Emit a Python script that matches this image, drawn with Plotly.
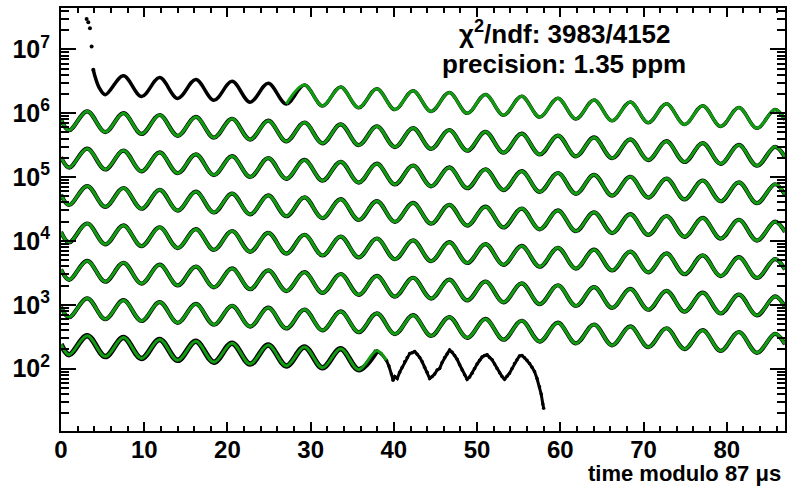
import plotly.graph_objects as go

# ---- data ----
# extremum times (trough / peak alternating) within one 87 us window
EXT_T = [0.0, 0.975, 3.15, 5.325, 7.5, 9.675, 11.85, 14.025, 16.2, 18.375, 20.55,
         22.725, 24.9, 27.075, 29.25, 31.425, 33.6, 35.775, 37.95, 40.125, 42.3,
         44.475, 46.65, 48.825, 51.0, 53.175, 55.35, 57.525, 59.7, 61.875, 64.05,
         66.225, 68.4, 70.575, 72.75, 74.925, 77.1, 79.275, 81.45, 83.625, 85.8, 87.0]

ROW0 = [3.045e6, 2.089e6, 4.133e6, 1.953e6, 3.864e6, 1.825e6, 3.611e6, 1.707e6, 3.376e6, 1.595e6,
        3.156e6, 1.491e6, 2.950e6, 1.394e6, 2.758e6, 1.303e6, 2.578e6, 1.218e6, 2.410e6, 1.139e6,
        2.253e6, 1.064e6, 2.106e6, 9.950e5, 1.969e6, 9.302e5, 1.840e6, 8.694e5, 1.720e6, 8.128e5,
        1.608e6, 7.598e5, 1.503e6, 7.103e5, 1.405e6, 6.639e5, 1.314e6, 6.206e5, 1.228e6, 5.801e5,
        1.148e6, 7.900e5]
ROW1 = [7.900e5, 5.421e5, 1.072e6, 5.068e5, 1.002e6, 4.737e5, 9.371e5, 4.428e5, 8.760e5, 4.139e5,
        8.189e5, 3.870e5, 7.655e5, 3.617e5, 7.156e5, 3.382e5, 6.690e5, 3.161e5, 6.253e5, 2.955e5,
        5.846e5, 2.762e5, 5.464e5, 2.582e5, 5.108e5, 2.414e5, 4.775e5, 2.256e5, 4.463e5, 2.109e5,
        4.173e5, 1.972e5, 3.900e5, 1.843e5, 3.646e5, 1.723e5, 3.408e5, 1.611e5, 3.186e5, 1.505e5,
        2.978e5, 2.050e5]
ROW2 = [2.050e5, 1.406e5, 2.782e5, 1.315e5, 2.601e5, 1.229e5, 2.431e5, 1.149e5, 2.273e5, 1.074e5,
        2.124e5, 1.004e5, 1.986e5, 9.384e4, 1.856e5, 8.773e4, 1.735e5, 8.200e4, 1.622e5, 7.666e4,
        1.517e5, 7.165e4, 1.417e5, 6.698e4, 1.325e5, 6.262e4, 1.239e5, 5.853e4, 1.158e5, 5.472e4,
        1.083e5, 5.115e4, 1.012e5, 4.781e4, 9.459e4, 4.469e4, 8.841e4, 4.178e4, 8.265e4, 3.905e4,
        7.726e4, 5.319e4]
ROW3 = [5.319e4, 3.650e4, 7.220e4, 3.412e4, 6.749e4, 3.189e4, 6.309e4, 2.982e4, 5.898e4, 2.787e4,
        5.513e4, 2.605e4, 5.154e4, 2.436e4, 4.818e4, 2.277e4, 4.504e4, 2.128e4, 4.210e4, 1.990e4,
        3.936e4, 1.860e4, 3.679e4, 1.738e4, 3.439e4, 1.625e4, 3.215e4, 1.519e4, 3.005e4, 1.420e4,
        2.809e4, 1.328e4, 2.626e4, 1.241e4, 2.455e4, 1.160e4, 2.295e4, 1.084e4, 2.145e4, 1.014e4,
        2.005e4, 1.380e4]
ROW4 = [1.380e4, 9.468e3, 1.873e4, 8.851e3, 1.751e4, 8.273e3, 1.637e4, 7.734e3, 1.530e4, 7.230e3,
        1.430e4, 6.758e3, 1.337e4, 6.318e3, 1.250e4, 5.906e3, 1.168e4, 5.521e3, 1.092e4, 5.161e3,
        1.021e4, 4.824e3, 9.543e3, 4.510e3, 8.921e3, 4.216e3, 8.340e3, 3.941e3, 7.795e3, 3.684e3,
        7.288e3, 3.444e3, 6.812e3, 3.219e3, 6.368e3, 3.009e3, 5.952e3, 2.813e3, 5.565e3, 2.629e3,
        5.201e3, 3.580e3]
ROW5 = [3580, 2457, 4860, 2297, 4543, 2147, 4247, 2007, 3970, 1876,
        3711, 1754, 3469, 1640, 3243, 1533, 3032, 1433, 2834, 1339,
        2649, 1252, 2476, 1170, 2315, 1094, 2164, 1023, 2023, 956.0,
        1891, 893.6, 1768, 835.4, 1652, 780.8, 1545, 730.0, 1444, 682.3,
        1350, 929.0]
ROW6 = [929.0, 637.5, 1261, 595.9, 1179, 557.0, 1102, 520.8, 1030, 486.8,
        962.9, 455.0, 900.1, 425.4, 841.5, 397.7, 786.6, 371.7, 735.3, 347.5,
        687.4, 324.8, 642.5, 303.6, 600.6, 283.9, 561.5, 265.3, 524.8, 248.1,
        490.7, 231.9, 458.6, 216.8, 428.7, 202.6, 400.7, 189.4, 374.6, 177.0,
        350.2, 241.0]
ROW7 = [241.0, 165.4, 327.1, 154.6, 305.8, 144.5, 285.8, 135.1, 267.2, 126.3,
        249.8, 118.1, 233.5, 110.4, 218.3, 103.2, 204.0, 96.4, 190.7]
ROW7_FIT_END_T = [39.1]
ROW7_FIT_END_V = [135.0]

# early (flash) data points of the first window
EARLY_T = [3.08, 3.28, 3.48, 3.68, 3.88]
EARLY_V = [3.0e7, 2.67e7, 2.15e7, 1.11e7, 4.8e6]
LEAD_T = [3.88, 4.08, 4.6]
LEAD_V = [4.8e6, 3.79e6, 2.5e6]

# last window: data beyond the fit range (noisy)
TAIL_T = [37.95, 38.5, 39.1, 39.4, 39.7, 39.9, 40.1, 40.4, 40.7, 41.0, 41.3, 41.6, 41.9, 42.2,
          42.5, 42.8, 43.1, 43.4, 43.7, 44.0, 44.3, 44.6, 44.9, 45.2, 45.5, 45.8, 46.1, 46.4,
          46.7, 47.0, 47.3, 47.6, 47.9, 48.2, 48.5, 48.8, 49.1, 49.4, 49.7, 50.0, 50.3, 50.6,
          50.9, 51.2, 51.5, 51.8, 52.1, 52.4, 52.7, 53.0, 53.3, 53.6, 53.9, 54.2, 54.5, 54.8,
          55.1, 55.4, 55.7, 56.0, 56.3, 56.6, 56.9, 57.2, 57.5, 57.7, 57.9, 58.0]
TAIL_V = [190.7, 170, 135, 110, 82, 66, 75, 70, 88, 105, 128, 150, 172, 178,
          185, 168, 150, 128, 105, 88, 70, 75, 82, 95, 100, 125, 150, 170,
          195, 180, 160, 140, 115, 95, 80, 68, 74, 85, 100, 118, 135, 152,
          160, 165, 150, 138, 118, 100, 86, 75, 68, 76, 85, 100, 120, 138,
          158, 160, 148, 135, 120, 105, 90, 70, 52, 40, 28, 24]

Y_TICKS = [1e2, 1e3, 1e4, 1e5, 1e6, 1e7]
Y_TICKTEXT = ["10<sup>2</sup>", "10<sup>3</sup>", "10<sup>4</sup>", "10<sup>5</sup>",
              "10<sup>6</sup>", "10<sup>7</sup>"]

TEXT1 = "χ<sup>2</sup>/ndf: 3983/4152"
TEXT2 = "precision: 1.35 ppm"
XTITLE = "time modulo 87 μs"

GREEN = "#129c12"
BLACK = "#000000"
FONT = "Liberation Sans"

fig = go.Figure()

full_rows = [ROW1, ROW2, ROW3, ROW4, ROW5, ROW6]

# black data (underneath)
fig.add_trace(go.Scatter(x=LEAD_T + EXT_T[3:], y=LEAD_V + ROW0[3:], mode="lines",
                         line=dict(color=BLACK, width=3.5, shape="spline"), hoverinfo="skip"))
for r in full_rows:
    fig.add_trace(go.Scatter(x=EXT_T, y=r, mode="lines",
                             line=dict(color=BLACK, width=4.2, shape="spline"), hoverinfo="skip"))
fig.add_trace(go.Scatter(x=EXT_T[:19], y=ROW7, mode="lines",
                         line=dict(color=BLACK, width=5.5, shape="spline"), hoverinfo="skip"))
fig.add_trace(go.Scatter(x=TAIL_T, y=TAIL_V, mode="lines+markers",
                         line=dict(color=BLACK, width=3), marker=dict(color=BLACK, size=3.5),
                         hoverinfo="skip"))
fig.add_trace(go.Scatter(x=EARLY_T, y=EARLY_V, mode="markers",
                         marker=dict(color=BLACK, size=4), hoverinfo="skip"))

# green fit
fig.add_trace(go.Scatter(x=EXT_T[13:], y=ROW0[13:], mode="lines",
                         line=dict(color=GREEN, width=3, shape="spline"), hoverinfo="skip"))
for r in full_rows:
    fig.add_trace(go.Scatter(x=EXT_T, y=r, mode="lines",
                             line=dict(color=GREEN, width=3, shape="spline"), hoverinfo="skip"))
fig.add_trace(go.Scatter(x=EXT_T[:19] + ROW7_FIT_END_T, y=ROW7 + ROW7_FIT_END_V, mode="lines",
                         line=dict(color=GREEN, width=3, shape="spline"), hoverinfo="skip"))

fig.update_layout(
    width=793, height=486,
    margin=dict(l=61, r=7, t=6, b=55),
    paper_bgcolor="white", plot_bgcolor="white",
    showlegend=False,
    font=dict(family=FONT, color="black"),
)
fig.update_xaxes(
    range=[0, 87], dtick=10, tick0=0,
    showgrid=False, zeroline=False,
    showline=True, linecolor="black", linewidth=2, mirror="allticks",
    ticks="inside", ticklen=9, tickwidth=1.5, tickcolor="black",
    tickfont=dict(family=FONT, size=24, weight="bold"),
    ticklabelstandoff=-4,
    minor=dict(dtick=2, ticks="inside", ticklen=5, tickwidth=1.5, tickcolor="black", showgrid=False),
)
fig.update_yaxes(
    type="log", range=[1.023, 7.648],
    tickmode="array", tickvals=Y_TICKS, ticktext=Y_TICKTEXT,
    showgrid=False, zeroline=False,
    showline=True, linecolor="black", linewidth=2, mirror="allticks",
    ticks="inside", ticklen=15, tickwidth=1.5, tickcolor="black",
    tickfont=dict(family=FONT, size=25, weight="bold"),
    ticklabelstandoff=4,
    minor=dict(tickmode="array",
               tickvals=[m * 10 ** e for e in range(1, 8) for m in range(2, 10)],
               ticks="inside", ticklen=8, tickwidth=1.5, tickcolor="black", showgrid=False),
)

fig.add_annotation(text=TEXT1, xref="paper", yref="paper", x=(566 - 61) / 725, y=1 - (31 - 6) / 425,
                   xanchor="center", yanchor="middle", showarrow=False,
                   font=dict(family=FONT, size=26, weight="bold", color="black"))
fig.add_annotation(text=TEXT2, xref="paper", yref="paper", x=(565 - 61) / 725, y=1 - (62 - 6) / 425,
                   xanchor="center", yanchor="middle", showarrow=False,
                   font=dict(family=FONT, size=26, weight="bold", color="black"))
fig.add_annotation(text=XTITLE, xref="paper", yref="paper", x=1, y=0, xshift=-3, yshift=-29,
                   xanchor="right", yanchor="top", showarrow=False, borderpad=0,
                   font=dict(family=FONT, size=22, weight="bold", color="black"))

fig.write_html("out.html")
